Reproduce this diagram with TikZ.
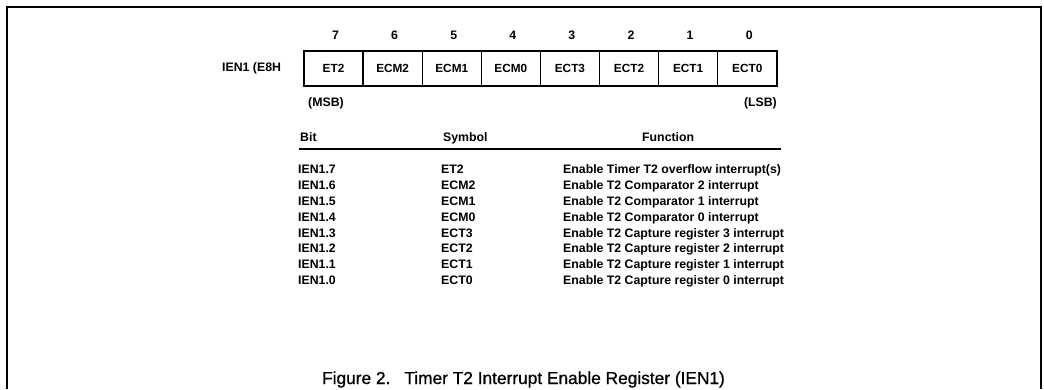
\documentclass[tikz,border=0pt]{standalone}
\usepackage{fontspec}
\setmainfont{Liberation Sans}
\newfontfamily\captfont[FakeBold=0.8]{Liberation Sans}
\usepackage{tikz}
\usetikzlibrary{positioning}

\tikzset{
  cell/.style={draw, line width=1.4pt, minimum width=59.1pt, minimum height=35pt,
    inner sep=0pt, font=\fontsize{11.8}{14}\selectfont\bfseries},
  lbl/.style={inner sep=0pt, font=\fontsize{12.3}{14}\selectfont\bfseries},
}

\begin{document}
\begin{tikzpicture}[x=1pt, y=-1pt]
    \useasboundingbox (0,0) rectangle (1044,389);
    % Frame (open at the bottom)
    \draw[line width=2pt] (7,389) -- (7,7) -- (1041,7) -- (1041,389);

    % Register name
    \node[lbl, anchor=base west] (reg) at (222,71.4) {IEN1 (E8H};

    % Bit cells and bit numbers
    \foreach \name [count=\i from 0] in {ET2,ECM2,ECM1,ECM0,ECT3,ECT2,ECT1,ECT0} {
        \pgfmathtruncatemacro{\bitno}{7-\i}
        \node[cell] (cell\bitno) at ({333.55+59.1*\i},68.5) {\name};
        \node[lbl, anchor=base] (num\bitno) at ({335.5+59.1*\i},39.4) {\bitno};
    }
    \node[lbl, anchor=base west] (msb) at (308,106.4) {(MSB)};
    \node[lbl, anchor=base east] (lsb) at (777,106.4) {(LSB)};

    % Table header
    \node[lbl, anchor=base west] (hbit) at (300,141.4) {Bit};
    \node[lbl, anchor=base west] (hsym) at (443,141.4) {Symbol};
    \node[lbl, anchor=base west] (hfun) at (642,141.4) {Function};
    \draw[line width=1.5pt] (299,149) -- (781,149);

    % Table rows
    \foreach \sym/\fun [count=\k from 0] in {
        ET2/Enable Timer T2 overflow interrupt(s),
        ECM2/Enable T2 Comparator 2 interrupt,
        ECM1/Enable T2 Comparator 1 interrupt,
        ECM0/Enable T2 Comparator 0 interrupt,
        ECT3/Enable T2 Capture register 3 interrupt,
        ECT2/Enable T2 Capture register 2 interrupt,
        ECT1/Enable T2 Capture register 1 interrupt,
        ECT0/Enable T2 Capture register 0 interrupt} {
        \pgfmathtruncatemacro{\bitno}{7-\k}
        \node[lbl, anchor=base west] (bit\bitno) at (298,{173.4+15.9*\k}) {IEN1.\bitno};
        \node[lbl, anchor=base west] (sym\bitno) at (441,{173.4+15.9*\k}) {\sym};
        \node[lbl, anchor=base west] (fun\bitno) at (563,{173.4+15.9*\k}) {\fun};
    }

    % Caption
    \node[inner sep=0pt, font=\captfont\fontsize{17.3}{20}\selectfont, anchor=base] (caption)
        at (523.5,384) {Figure 2.\hspace{14pt}Timer T2 Interrupt Enable Register (IEN1)};
\end{tikzpicture}
\end{document}
